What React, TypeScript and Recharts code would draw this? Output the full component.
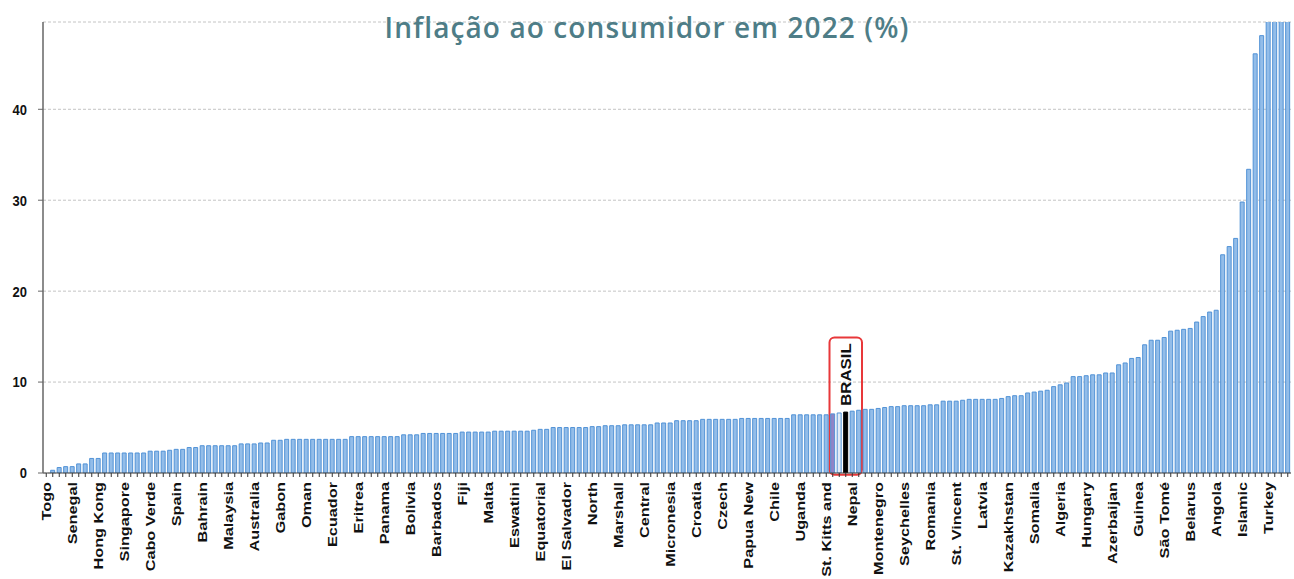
import React from 'react';
import { BarChart, Bar, XAxis, YAxis, CartesianGrid, Cell, ReferenceArea } from 'recharts';

const W = 1294;
const H = 579;

const title = 'Inflação ao consumidor em 2022 (%)';

// 48 visible tick labels, one every 4 bars
const tickLabels = [
  'Togo', 'Senegal', 'Hong Kong', 'Singapore', 'Cabo Verde', 'Spain', 'Bahrain', 'Malaysia',
  'Australia', 'Gabon', 'Oman', 'Ecuador', 'Eritrea', 'Panama', 'Bolivia', 'Barbados',
  'Fiji', 'Malta', 'Eswatini', 'Equatorial', 'El Salvador', 'North', 'Marshall', 'Central',
  'Micronesia', 'Croatia', 'Czech', 'Papua New', 'Chile', 'Uganda', 'St. Kitts and', 'Nepal',
  'Montenegro', 'Seychelles', 'Romania', 'St. Vincent', 'Latvia', 'Kazakhstan', 'Somalia', 'Algeria',
  'Hungary', 'Azerbaijan', 'Guinea', 'São Tomé', 'Belarus', 'Angola', 'Islamic', 'Turkey',
];
const labelEvery = 4;

// inflation values (%) of the 192 countries, sorted
const values = [
  0, 0.3, 0.6, 0.7, 0.7, 1.0, 1.0, 1.6, 1.6, 2.2,
  2.2, 2.2, 2.2, 2.2, 2.2, 2.2, 2.4, 2.4, 2.4, 2.5,
  2.6, 2.6, 2.8, 2.8, 3.0, 3.0, 3.0, 3.0, 3.0, 3.0,
  3.2, 3.2, 3.2, 3.3, 3.3, 3.6, 3.6, 3.7, 3.7, 3.7,
  3.7, 3.7, 3.7, 3.7, 3.7, 3.7, 3.7, 4.0, 4.0, 4.0,
  4.0, 4.0, 4.0, 4.0, 4.0, 4.2, 4.2, 4.2, 4.35, 4.35,
  4.35, 4.35, 4.35, 4.35, 4.5, 4.5, 4.5, 4.5, 4.5, 4.6,
  4.6, 4.6, 4.6, 4.6, 4.6, 4.7, 4.8, 4.8, 5.0, 5.0,
  5.0, 5.0, 5.0, 5.0, 5.1, 5.1, 5.2, 5.2, 5.2, 5.3,
  5.3, 5.3, 5.3, 5.3, 5.5, 5.5, 5.5, 5.75, 5.75, 5.75,
  5.75, 5.9, 5.9, 5.9, 5.9, 5.9, 5.9, 6.0, 6.0, 6.0,
  6.0, 6.0, 6.0, 6.0, 6.0, 6.4, 6.4, 6.4, 6.4, 6.4,
  6.4, 6.5, 6.6, 6.7, 6.8, 6.9, 7.0, 7.0, 7.1, 7.2,
  7.3, 7.3, 7.4, 7.4, 7.4, 7.4, 7.5, 7.5, 7.9, 7.9,
  7.9, 8.0, 8.1, 8.1, 8.1, 8.1, 8.1, 8.2, 8.4, 8.5,
  8.5, 8.8, 8.9, 9.0, 9.1, 9.5, 9.7, 9.9, 10.6, 10.6,
  10.7, 10.8, 10.8, 11.0, 11.0, 11.9, 12.1, 12.6, 12.7, 14.1,
  14.6, 14.6, 14.9, 15.6, 15.7, 15.8, 15.9, 16.6, 17.2, 17.7,
  17.9, 24.0, 24.9, 25.8, 29.8, 33.4, 46.1, 48.1, 72.3, 88.0,
  104.7, 171.2,
];

const brasilIndex = 123;
const yTicks = [0, 10, 20, 30, 40];
const yMax = 49.6;
const boxRange = { x1: 121, x2: 125, y1: -0.2, y2: 14.9 };

const barFill = '#93bde9';
const barStroke = '#5192d6';
const specialFills: Record<number, string> = {
  121: '#8f84c6',
  122: '#e1ebf6',
  [brasilIndex]: '#000000',
};

const data = values.map((v, i) => ({
  idx: i,
  name: i % labelEvery === 0 ? tickLabels[i / labelEvery] : '',
  value: v,
}));

const XTick = (props: any) => {
  const { x, y, payload } = props;
  const i = payload.value as number;
  if (i % labelEvery !== 0) return null;
  const label = tickLabels[i / labelEvery];
  return (
    <g transform={`translate(${x},${y})`}>
      <text
        x={0}
        y={0}
        dy="0.36em"
        textAnchor="end"
        transform="rotate(-90) scale(1.25,1)"
        fontSize={13}
        fontWeight="bold"
        fill="#111"
        fontFamily="'Liberation Sans', Arial, sans-serif"
      >
        {label}
      </text>
    </g>
  );
};

const YTick = (props: any) => {
  const { y, payload } = props;
  return (
    <g transform={`translate(27,${y})`}>
      <text
        x={0}
        y={0}
        dy="0.36em"
        textAnchor="end"
        transform="scale(1,1.15)"
        fontSize={13}
        fontWeight="bold"
        fill="#111"
        fontFamily="'Liberation Sans', Arial, sans-serif"
      >
        {payload.value}
      </text>
    </g>
  );
};

const BrasilBox = (props: any) => {
  const { x, y, width, height } = props;
  const cx = x + width / 2;
  const cy = y + 37;
  return (
    <g>
      <rect x={x} y={y} width={width} height={height} rx={5} ry={5} fill="none" stroke="#e8383a" strokeWidth={2} />
      <g transform={`translate(${cx},${cy}) rotate(-90) scale(1.12,1)`}>
        <text
          x={0}
          y={0}
          dy="0.36em"
          textAnchor="middle"
          fontSize={15}
          fontWeight="bold"
          fill="#111"
          fontFamily="'Liberation Sans', Arial, sans-serif"
        >
          BRASIL
        </text>
      </g>
    </g>
  );
};

export default function App() {
  return (
    <div style={{ position: 'absolute', left: 0, top: 0, width: W, height: H, background: '#fff', overflow: 'hidden' }}>
      <div
        style={{
          position: 'absolute',
          top: 10,
          left: 0,
          width: W,
          textAlign: 'center',
          fontFamily: "'Open Sans', 'Noto Sans', sans-serif",
          fontSize: 28,
          fontWeight: 600,
          letterSpacing: 1.1,
          color: '#4e7d87',
          lineHeight: '34px',
          zIndex: 2,
        }}
      >
        {title}
      </div>
      <BarChart
        width={W}
        height={H}
        data={data}
        margin={{ top: 22, right: 3, left: 0, bottom: 0 }}
        barCategoryGap="18%"
      >
        <CartesianGrid vertical={false} stroke="#c4c4c4" strokeDasharray="3 2" />
        <XAxis
          dataKey="idx"
          interval={0}
          tick={<XTick />}
          tickSize={4}
          tickMargin={5}
          height={106}
          axisLine={{ stroke: '#444', strokeWidth: 1 }}
          tickLine={{ stroke: '#333' }}
        />
        <YAxis
          domain={[0, yMax]}
          ticks={yTicks}
          allowDataOverflow
          width={43}
          tickSize={5}
          tickMargin={10}
          tick={<YTick />}
          axisLine={{ stroke: '#666', strokeWidth: 1.5 }}
          tickLine={{ stroke: '#666' }}
        />
        <Bar dataKey="value" isAnimationActive={false} fill={barFill} stroke={barStroke} strokeWidth={1}>
          {data.map((d, i) => (
            <Cell
              key={d.idx}
              fill={specialFills[i] ?? barFill}
              stroke={i === brasilIndex ? '#000' : barStroke}
            />
          ))}
        </Bar>
        <ReferenceArea
          x1={boxRange.x1}
          x2={boxRange.x2}
          y1={boxRange.y1}
          y2={boxRange.y2}
          ifOverflow="visible"
          shape={<BrasilBox />}
        />
      </BarChart>
    </div>
  );
}
